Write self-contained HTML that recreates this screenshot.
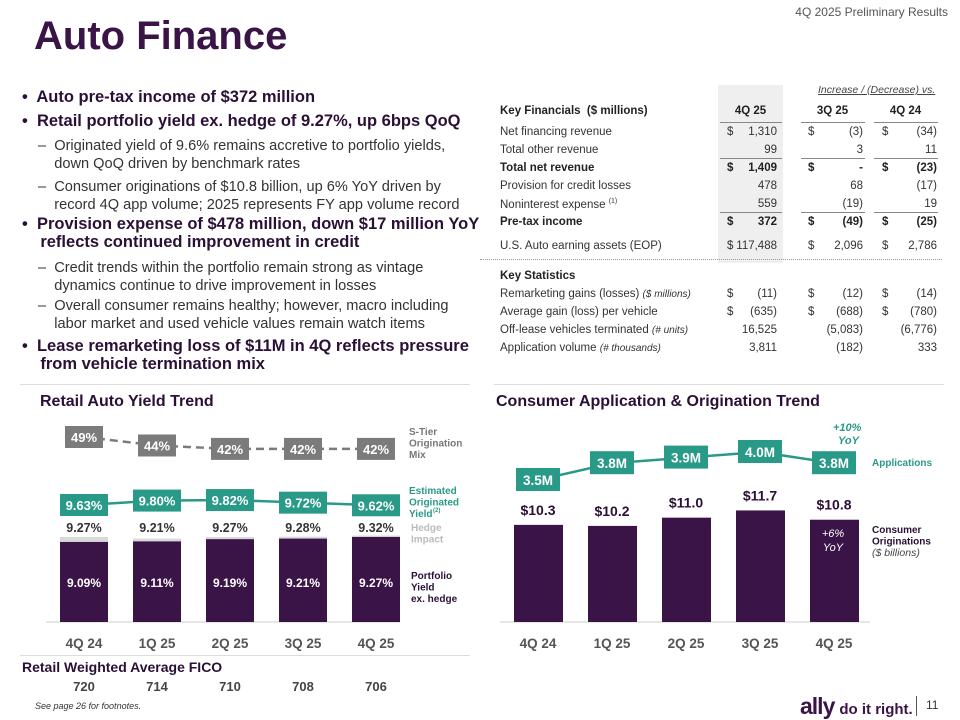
<!DOCTYPE html>
<html><head><meta charset="utf-8">
<style>
body{margin:0;width:960px;height:720px;overflow:hidden;background:#fff;font-family:"Liberation Sans",sans-serif;color:#333;position:relative}
.a{position:absolute;white-space:nowrap}
.t{position:absolute;font-size:11.5px;color:#333;white-space:nowrap}
.b{font-weight:bold;color:#222}
.r{text-align:right}
.bul{position:absolute;left:22px;font-weight:bold;font-size:16.5px;color:#2a1036;line-height:18px}
.sub{position:absolute;left:38px;font-size:14.6px;color:#333;line-height:18px}
</style></head><body>
<div class="a" style="right:12px;top:5px;font-size:12px;color:#555">4Q 2025 Preliminary Results</div>
<div class="a" style="left:34px;top:14px;font-size:40px;font-weight:bold;color:#3a1447">Auto Finance</div>

<div>
<div class="bul" style="top:88px">•&nbsp; Auto pre-tax income of $372 million</div>
<div class="bul" style="top:112px">•&nbsp; Retail portfolio yield ex. hedge of 9.27%, up 6bps QoQ</div>
<div class="sub" style="top:137px">–&nbsp; Originated yield of 9.6% remains accretive to portfolio yields,<br>&nbsp;&nbsp;&nbsp; down QoQ driven by benchmark rates</div>
<div class="sub" style="top:178px">–&nbsp; Consumer originations of $10.8 billion, up 6% YoY driven by<br>&nbsp;&nbsp;&nbsp; record 4Q app volume; 2025 represents FY app volume record</div>
<div class="bul" style="top:215px">•&nbsp; Provision expense of $478 million, down $17 million YoY<br>&nbsp;&nbsp;&nbsp; reflects continued improvement in credit</div>
<div class="sub" style="top:259px">–&nbsp; Credit trends within the portfolio remain strong as vintage<br>&nbsp;&nbsp;&nbsp; dynamics continue to drive improvement in losses</div>
<div class="sub" style="top:297px">–&nbsp; Overall consumer remains healthy; however, macro including<br>&nbsp;&nbsp;&nbsp; labor market and used vehicle values remain watch items</div>
<div class="bul" style="top:337px">•&nbsp; Lease remarketing loss of $11M in 4Q reflects pressure<br>&nbsp;&nbsp;&nbsp; from vehicle termination mix</div>
</div>

<div>
<div class="a" style="left:718px;top:85px;width:65px;height:178px;background:#efefef"></div>
<div class="a" style="left:818px;top:84px;font-size:10.5px;font-style:italic;text-decoration:underline;color:#444">Increase / (Decrease) vs.</div>
<div class="t b" style="left:500px;top:105px">Key Financials&nbsp; ($ millions)</div>
<div class="t b" style="left:718px;width:65px;top:105px;text-align:center">4Q 25</div>
<div class="t b" style="left:800px;width:65px;top:105px;text-align:center">3Q 25</div>
<div class="t b" style="left:873px;width:65px;top:105px;text-align:center">4Q 24</div>
<div class="a" style="left:720px;top:122px;width:62px;border-top:1.5px solid #888"></div>
<div class="a" style="left:801px;top:122px;width:64px;border-top:1.5px solid #888"></div>
<div class="a" style="left:874px;top:122px;width:64px;border-top:1.5px solid #888"></div>
<div class="a" style="left:720px;top:158px;width:62px;border-top:1.5px solid #888"></div>
<div class="a" style="left:801px;top:158px;width:64px;border-top:1.5px solid #888"></div>
<div class="a" style="left:874px;top:158px;width:64px;border-top:1.5px solid #888"></div>
<div class="a" style="left:720px;top:212px;width:62px;border-top:1.5px solid #888"></div>
<div class="a" style="left:801px;top:212px;width:64px;border-top:1.5px solid #888"></div>
<div class="a" style="left:874px;top:212px;width:64px;border-top:1.5px solid #888"></div>
<div class="a" style="left:480px;top:259px;width:462px;border-top:1px dotted #999"></div>
<div id="tbl"></div>
</div>

<div class="a" style="left:20px;top:384px;width:450px;border-top:1px solid #ddd"></div>
<div class="a" style="left:494px;top:384px;width:450px;border-top:1px solid #ddd"></div>
<div class="a" style="left:40px;top:393px;font-size:16px;font-weight:bold;color:#2a1036">Retail Auto Yield Trend</div>
<div class="a" style="left:496px;top:393px;font-size:16px;font-weight:bold;color:#2a1036">Consumer Application &amp; Origination Trend</div>

<svg class="a" style="left:0;top:0" width="960" height="720" id="chart" font-family="Liberation Sans, sans-serif" font-weight="bold"></svg>

<div class="a" style="left:22px;top:659px;font-size:14px;font-weight:bold;color:#2a1036">Retail Weighted Average FICO</div>
<div class="a" style="left:20px;top:655px;width:450px;border-top:1px solid #ddd"></div>
<div class="a" style="left:35px;top:701px;font-size:9px;font-style:italic;color:#333">See page 26 for footnotes.</div>
<div class="a" style="left:800px;top:693px;font-size:23px;font-weight:bold;color:#3a1447;letter-spacing:-1px">ally<span style="font-size:15px;letter-spacing:0;margin-left:5px">do it right.</span></div>
<div class="a" style="left:916px;top:696px;height:20px;border-left:1px solid #555"></div>
<div class="a" style="left:926px;top:698px;font-size:12px;color:#333">11</div>

<script>
// Table data
const tblRows=[
 ["Net financing revenue","$","1,310","$","(3)","$","(34)",0,134],
 ["Total other revenue","","99","","3","","11",0,152],
 ["Total net revenue","$","1,409","$","-","$","(23)",1,170],
 ["Provision for credit losses","","478","","68","","(17)",0,188],
 ["Noninterest expense <sup style='font-size:7px'>(1)</sup>","","559","","(19)","","19",0,206],
 ["Pre-tax income","$","372","$","(49)","$","(25)",1,224],
 ["U.S. Auto earning assets (EOP)","$","117,488","$","2,096","$","2,786",0,248],
 ["<b>Key Statistics</b>","","","","","","",1,278],
 ["Remarketing gains (losses) <i style='font-size:10px'>($ millions)</i>","$","(11)","$","(12)","$","(14)",0,296],
 ["Average gain (loss) per vehicle","$","(635)","$","(688)","$","(780)",0,314],
 ["Off-lease vehicles terminated <i style='font-size:10px'>(# units)</i>","","16,525","","(5,083)","","(6,776)",0,332],
 ["Application volume <i style='font-size:10px'>(# thousands)</i>","","3,811","","(182)","","333",0,350]];
const tbl=document.getElementById('tbl');
tblRows.forEach(r=>{
 const y=r[8]-8, cls='t'+(r[7]?' b':'');
 const mk=(html,l,w,al)=>{const d=document.createElement('div');d.className=cls;d.style.left=l+'px';d.style.top=y+'px';if(w){d.style.width=w+'px';d.style.textAlign=al;}d.innerHTML=html;tbl.appendChild(d);return d;};
 const lab=mk(r[0],500);
 
 
 mk(r[1],727);mk(r[2],730,47,'right');mk(r[3],808);mk(r[4],815,48,'right');mk(r[5],882);mk(r[6],885,52,'right');
});

const NS='http://www.w3.org/2000/svg';
const svg=document.getElementById('chart');
function el(tag,attrs,txt){const e=document.createElementNS(NS,tag);for(const k in attrs)e.setAttribute(k,attrs[k]);if(txt!==undefined)e.textContent=txt;svg.appendChild(e);return e;}

// Left chart data
const quarters=["4Q 24","1Q 25","2Q 25","3Q 25","4Q 25"];
const portfolioYield=[9.09,9.11,9.19,9.21,9.27];
const totalYield=[9.27,9.21,9.27,9.28,9.32];
const originatedYield=[9.63,9.80,9.82,9.72,9.62];
const sTierMix=[49,44,42,42,42];
const fico=[720,714,710,708,706];
// Right chart data
const applications=[3.5,3.8,3.9,4.0,3.8];
const originations=[10.3,10.2,11.0,11.7,10.8];

const P='#3a1447',T='#2a9a88',G='#7b7b7b';
const xL=i=>84+i*73, yL=v=>622-(v-6.2)*27.7, yO=v=>505-(v-9.63)*26, yS=v=>437+(49-v)*1.7;
const xR=i=>538+i*74, yR=v=>622-(v-0.87)*10.3, yA=v=>480-(v-3.5)*56;

el('line',{x1:46,x2:400,y1:622,y2:622,stroke:'#ddd','stroke-width':1.5});
el('line',{x1:500,x2:870,y1:622,y2:622,stroke:'#ddd','stroke-width':1.5});
for(let i=0;i<4;i++){const l=el('line',{x1:xL(i),y1:yS(sTierMix[i]),x2:xL(i+1),y2:yS(sTierMix[i+1]),stroke:G,'stroke-width':2.5,'stroke-dasharray':'8,5'});}
for(let i=0;i<4;i++){const l=el('line',{x1:xL(i),y1:yO(originatedYield[i]),x2:xL(i+1),y2:yO(originatedYield[i+1]),stroke:T,'stroke-width':2.5});}
for(let i=0;i<4;i++){const l=el('line',{x1:xR(i),y1:yA(applications[i]),x2:xR(i+1),y2:yA(applications[i+1]),stroke:T,'stroke-width':2.5});}

quarters.forEach((q,i)=>{
 const x=xL(i);
 const h=el('rect',{x:x-24,y:yL(totalYield[i]),width:48,height:622-yL(totalYield[i]),fill:'#d9d9d9'});
 
 const b=el('rect',{x:x-24,y:yL(portfolioYield[i]),width:48,height:622-yL(portfolioYield[i]),fill:P});
 
 el('text',{x:x,y:587,fill:'#fff','font-size':12,'text-anchor':'middle'},portfolioYield[i].toFixed(2)+'%');
 el('text',{x:x,y:532,fill:'#333','font-size':12.5,'text-anchor':'middle'},totalYield[i].toFixed(2)+'%');
 const ob=el('rect',{x:x-24,y:yO(originatedYield[i])-11,width:48,height:22,fill:T});
 
 el('text',{x:x,y:yO(originatedYield[i])+5,fill:'#fff','font-size':13,'text-anchor':'middle'},originatedYield[i].toFixed(2)+'%');
 const sb=el('rect',{x:x-19,y:yS(sTierMix[i])-11,width:38,height:22,fill:G});
 
 el('text',{x:x,y:yS(sTierMix[i])+5,fill:'#fff','font-size':13,'text-anchor':'middle'},sTierMix[i]+'%');
 el('text',{x:x,y:648,fill:'#555','font-size':13.5,'text-anchor':'middle'},q);
 el('text',{x:x,y:691,fill:'#444','font-size':13,'text-anchor':'middle'},fico[i]);
 const xr=xR(i);
 const rb=el('rect',{x:xr-24,y:yR(originations[i]),width:49,height:622-yR(originations[i]),fill:P});
 
 el('text',{x:xr,y:yR(originations[i])-10,fill:'#2a1036','font-size':14,'text-anchor':'middle'},'$'+originations[i].toFixed(1));
 const ab=el('rect',{x:xr-22,y:yA(applications[i])-12,width:44,height:23,fill:T});
 
 el('text',{x:xr,y:yA(applications[i])+5,fill:'#fff','font-size':13.5,'text-anchor':'middle'},applications[i].toFixed(1)+'M');
 el('text',{x:xr,y:648,fill:'#555','font-size':13.5,'text-anchor':'middle'},q);
});
function lg(x,y,lines,fill,size,style){lines.forEach((s,k)=>{const t=el('text',{x:x,y:y+k*11.5,fill:fill,'font-size':size||10});if(style)t.setAttribute('font-style',style);t.textContent=s;});}
lg(409,435,['S-Tier','Origination','Mix'],'#777');
lg(409,494,['Estimated','Originated'],T);
el('text',{x:409,y:517,fill:T,'font-size':10},'Yield');
el('text',{x:433,y:512,fill:T,'font-size':6},'(2)');
lg(411,531,['Hedge','Impact'],'#bbb');
lg(411,579,['Portfolio','Yield','ex. hedge'],'#2a1036');
lg(872,466,['Applications'],T);
lg(872,533,['Consumer','Originations'],'#2a1036');
el('text',{x:872,y:556,fill:'#444','font-size':10.5,'font-weight':'normal','font-style':'italic'},'($ billions)');
lg(833,431,['+10%'],T,11,'italic');lg(838,444,['YoY'],T,11,'italic');
el('text',{x:833,y:537,fill:'#fff','font-size':11,'text-anchor':'middle','font-weight':'normal','font-style':'italic'},'+6%');
el('text',{x:833,y:551,fill:'#fff','font-size':11,'text-anchor':'middle','font-weight':'normal','font-style':'italic'},'YoY');
</script>
</body></html>
